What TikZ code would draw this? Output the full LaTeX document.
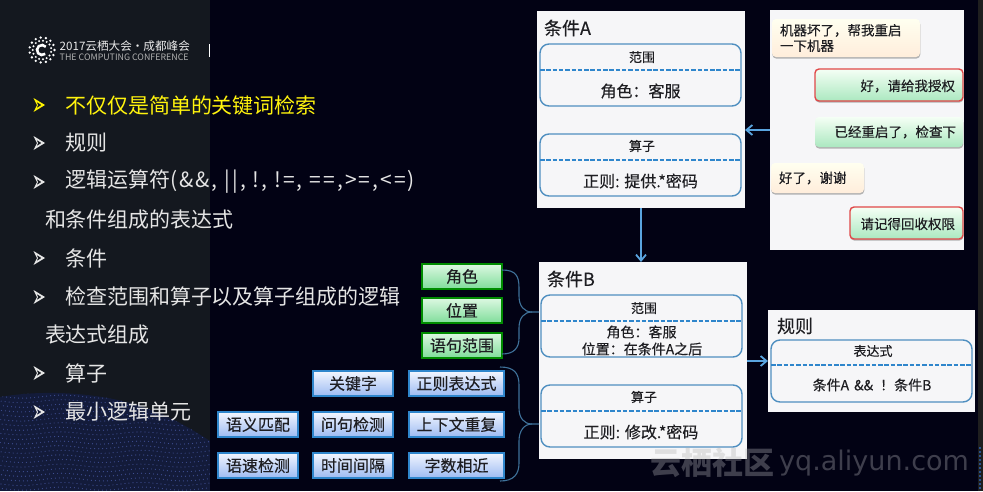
\documentclass[tikz,border=0pt]{standalone}
\usepackage{fontspec}
\setmainfont{Noto Sans CJK SC}
\newfontfamily\latinwm{DejaVu Sans}
\newfontfamily\heavycjk[FakeBold=0.35]{Noto Sans CJK SC}
\usetikzlibrary{arrows.meta,shadows,calc}
\definecolor{navy}{HTML}{020214}
\definecolor{slate}{HTML}{14181F}
\definecolor{panel}{HTML}{F6F6F8}
\definecolor{rim}{HTML}{4F8FC0}
\definecolor{dash}{HTML}{2F86CC}
\definecolor{flow}{HTML}{5AA5E0}
\definecolor{ink}{HTML}{1E1E22}
\definecolor{wavefill}{HTML}{131B3A}
\definecolor{wavedot}{HTML}{3F4E92}
\definecolor{chipgreenlow}{HTML}{7FDD9A}
\definecolor{chipgreentop}{HTML}{DDF8E2}
\definecolor{chipbluelow}{HTML}{9DBBF2}
\definecolor{chipbluetop}{HTML}{F2F6FF}
\definecolor{replylow}{HTML}{ABE8C0}
\definecolor{alertrim}{HTML}{E04848}
\newcommand{\fs}[1]{\fontsize{#1}{#1}\selectfont}
\tikzset{
  x=1pt,y=-1pt,
  txt/.style={inner sep=0pt,outer sep=0pt,text=ink,font=\heavycjk\fs{16}},
  card/.style={anchor=north west,draw=none,fill=panel,inner sep=0pt,outer sep=0pt},
  slot/.style={anchor=north west,draw=rim,line width=1.4pt,rounded corners=9pt,inner sep=0pt,outer sep=0pt},
  divider/.style={draw=dash,line width=1.8pt,dash pattern=on 4.5pt off 1.8pt},
  flowline/.style={draw=flow,line width=1.8pt,-{Straight Barb[length=6pt,width=10pt,line width=1.8pt]}},
  brace/.style={draw=rim!80!black,line width=1.1pt},
  chatcard/.style={anchor=north west,rounded corners=4pt,inner sep=0pt,outer sep=0pt,
    copy shadow={shadow xshift=0.3pt,shadow yshift=-1.6pt,fill=black!30,draw=none}},
  ask/.style={chatcard,top color=yellow!6!white,bottom color=orange!14!white},
  reply/.style={chatcard,top color=green!4!white,bottom color=replylow},
  alert/.style={reply,draw=alertrim,line width=1.4pt},
  chiptext/.style={font=\heavycjk\fs{16},text=ink},
  greenchip/.style={chiptext,anchor=north west,draw=green!55!black,line width=1.3pt,top color=chipgreentop,bottom color=chipgreenlow,
    inner sep=0pt,outer sep=0pt,minimum height=25pt,minimum width=80pt},
  bluechip/.style={chiptext,anchor=north west,draw=dash,line width=1.3pt,top color=chipbluetop,bottom color=chipbluelow,
    inner sep=0pt,outer sep=0pt,minimum height=25pt},
  item/.style={anchor=west,inner sep=0pt,outer sep=0pt,text=white!90!black,font=\fs{21}}
}
% hollow arrow-shaped list bullet
\newcommand{\listmark}[2]{%
  \fill[#2,even odd rule] (33.5,#1-7) -- (45,#1) -- (33.5,#1+7) -- (37,#1) -- cycle
     (36.5,#1-3.2) -- (41.5,#1) -- (36.5,#1+3.2) -- (38,#1) -- cycle;}
\begin{document}
\begin{tikzpicture}
\useasboundingbox (0,0) rectangle (983,491);
% backgrounds
\fill[navy] (0,0) rectangle (983,491);
\fill[slate] (0,0) rectangle (210,491);
\fill[black!88!white] (978,0) rectangle (983,491);
% dotted wave in the lower corner of the dark column
\begin{scope}
  \clip (0,397) .. controls (40,390) and (90,392) .. (130,403) .. controls (165,413) and (190,428) .. (210,441) -- (210,491) -- (0,491) -- cycle;
  \fill[wavefill] (0,380) rectangle (210,491);
  \foreach \r in {0,...,21}{
    \foreach \c in {0,...,52}{
      \fill[wavedot] ({\c*4+2*mod(\r,2)+1.5*sin(\r*25)},{392+\r*4.6+1.5*sin(\c*18)}) circle (0.6);
    }
  }
\end{scope}
\foreach \yy in {448,452,...,490}{\fill[blue!60!cyan!80!white] (980,\yy) circle (0.9);}
% conference logo
\foreach \a in {0,24,...,336}{
  \fill[white] ($(42,50)+(\a:12.5)$) circle (1.3);
  \fill[white] ($(42,50)+(\a+12:9.3)$) circle (1.1);
}
\draw[white,line width=2.6pt] ($(42,50)+(50:5)$) arc (50:320:5);
\node[inner sep=0pt,anchor=west,text=white!92!black,font=\fs{11.6}] (logoa) at (59.5,46) {2017云栖大会·成都峰会};
\node[inner sep=0pt,anchor=west,text=white!70!black,font=\fs{8.85}] (logob) at (59.5,57.5) {THE COMPUTING CONFERENCE};
\fill[white] (209,44) rectangle (210,57);
% bullet list
\listmark{105}{yellow}
\listmark{143}{white!90!black}
\listmark{182}{white!90!black}
\listmark{258}{white!90!black}
\listmark{297}{white!90!black}
\listmark{373}{white!90!black}
\listmark{412}{white!90!black}
\node[item,text=yellow!95!white] (l1) at (65,105) {不仅仅是简单的关键词检索};
\node[item] (l2) at (65,143) {规则};
\node[item] (l3) at (65,182) {逻辑运算符{\addfontfeature{LetterSpace=10}(\&\&, ||, !, !=, ==,>=,<=)}};
\node[item] (l4) at (45,220) {和条件组成的表达式};
\node[item] (l5) at (65,258) {条件};
\node[item] (l6) at (65,297) {检查范围和算子以及算子组成的逻辑};
\node[item] (l7) at (45,335) {表达式组成};
\node[item] (l8) at (65,373) {算子};
\node[item] (l9) at (65,412) {最小逻辑单元};
% condition A
\node[card,minimum width=208pt,minimum height=197pt] (ca) at (537,11) {};
\node[txt,anchor=west,font=\heavycjk\fs{18}] (catitle) at (544,28) {条件A};
\node[slot,minimum width=201pt,minimum height=62pt] (ca1) at (540,44) {};
\draw[divider] (ca1.west |- 0,70) -- (ca1.east |- 0,70);
\node[txt,font=\heavycjk\fs{13}] at (642,57) {范围};
\node[txt] at (640.5,91) {角色：客服};
\node[slot,minimum width=201pt,minimum height=62pt] (ca2) at (540,134) {};
\draw[divider] (ca2.west |- 0,160) -- (ca2.east |- 0,160);
\node[txt,font=\heavycjk\fs{13}] at (642,146) {算子};
\node[txt] at (640.5,181) {正则: 提供.*密码};
% chat log
\node[card,minimum width=194pt,minimum height=240pt] (chat) at (770,10) {};
\node[ask,minimum width=148pt,minimum height=38pt] (m1) at (772,19) {};
\node[txt,anchor=west,font=\heavycjk\fs{13.5},align=left] at (780,38) {机器坏了，帮我重启\\[2pt]一下机器};
\node[alert,minimum width=148pt,minimum height=32pt] (m2) at (815,69) {};
\node[txt,anchor=east,font=\heavycjk\fs{13.5}] at (955,86) {好，请给我授权};
\node[reply,minimum width=148pt,minimum height=30pt] (m3) at (815,117) {};
\node[txt,anchor=east,font=\heavycjk\fs{13.5}] at (956,132) {已经重启了，检查下};
\node[ask,minimum width=93pt,minimum height=30pt] (m4) at (771,163) {};
\node[txt,anchor=west,font=\heavycjk\fs{13.5}] at (779,178) {好了，谢谢};
\node[alert,minimum width=113pt,minimum height=32pt] (m5) at (850,207) {};
\node[txt,anchor=east,font=\heavycjk\fs{13.5}] at (955,224) {请记得回收权限};
% condition B
\node[card,minimum width=208pt,minimum height=197pt] (cb) at (539,262) {};
\node[txt,anchor=west,font=\heavycjk\fs{18}] (cbtitle) at (547,279) {条件B};
\node[slot,minimum width=201pt,minimum height=62pt] (cb1) at (541,295) {};
\draw[divider] (cb1.west |- 0,321) -- (cb1.east |- 0,321);
\node[txt,font=\heavycjk\fs{13}] at (644,308) {范围};
\node[txt,font=\heavycjk\fs{14}] at (641.5,332) {角色：客服};
\node[txt,font=\heavycjk\fs{14}] at (642,349) {位置：在条件A之后};
\node[slot,minimum width=201pt,minimum height=62pt] (cb2) at (541,385) {};
\draw[divider] (cb2.west |- 0,411) -- (cb2.east |- 0,411);
\node[txt,font=\heavycjk\fs{13}] at (644,397) {算子};
\node[txt] at (641,432) {正则: 修改.*密码};
% rule
\node[card,minimum width=207pt,minimum height=102pt] (ru) at (768,310) {};
\node[txt,anchor=west,font=\heavycjk\fs{18}] (rutitle) at (777,326) {规则};
\node[slot,minimum width=201pt,minimum height=62pt] (ru1) at (771,340) {};
\draw[divider] (ru1.west |- 0,365) -- (ru1.east |- 0,365);
\node[txt,font=\heavycjk\fs{13}] at (873,351) {表达式};
\node[txt,font=\heavycjk\fs{14}] at (872,385) {条件A\hspace{5pt}\&\&\hspace{7pt}！条件B};
% flow arrows
\draw[flowline] (chat.west |- 0,130) -- (ca.east |- 0,130);
\draw[flowline] (ca.south -| 641,0) -- (cb.north -| 641,0);
\draw[flowline] (cb.east |- 0,361) -- (ru.west |- 0,361);
% scope attributes
\node[greenchip] (g1) at (422,264) {角色};
\node[greenchip] (g2) at (422,298) {位置};
\node[greenchip] (g3) at (422,333) {语句范围};
% operator types
\node[bluechip,minimum width=80pt] (b1) at (313,371) {关键字};
\node[bluechip,minimum width=95pt] (b2) at (409,371) {正则表达式};
\node[bluechip,minimum width=80pt] (b3) at (218,412) {语义匹配};
\node[bluechip,minimum width=80pt] (b4) at (313,412) {问句检测};
\node[bluechip,minimum width=95pt] (b5) at (409,412) {上下文重复};
\node[bluechip,minimum width=80pt] (b6) at (218,453) {语速检测};
\node[bluechip,minimum width=80pt] (b7) at (313,453) {时间间隔};
\node[bluechip,minimum width=95pt] (b8) at (409,453) {字数相近};
% brackets joining the chips to the condition
\draw[brace] (g1.east |- 0,270) .. controls (516,270) and (519,276) .. (519,288) -- (519,296)
   .. controls (519,306) and (524,312) .. (532,312) -- (cb.west |- 0,312);
\draw[brace] (g3.east |- 0,354) .. controls (514,354) and (519,348) .. (519,338) -- (519,328)
   .. controls (519,318) and (524,312) .. (532,312);
\draw[brace] (500,367) .. controls (514,367) and (519,373) .. (519,385) -- (519,408)
   .. controls (519,418) and (524,424) .. (532,424) -- (cb.west |- 0,424);
\draw[brace] (500,481) .. controls (514,481) and (519,474) .. (519,463) -- (519,441)
   .. controls (519,431) and (524,424) .. (532,424);
% site watermark
\begin{scope}
  \node[inner sep=0pt,anchor=west,text=white,opacity=0.24,font=\fs{31}\bfseries] (wma) at (650,463) {云栖社区};
  \node[inner sep=0pt,anchor=west,text=white,opacity=0.24,font=\latinwm\fs{27}] (wmb) at (779,463) {yq.aliyun.com};
\end{scope}
\begin{scope}
  \clip (cb.north west) rectangle (cb.south east);
  \node[inner sep=0pt,anchor=west,text=black,opacity=0.1,font=\fs{31}\bfseries] (wmc) at (650,463) {云栖社区};
\end{scope}
\end{tikzpicture}
\end{document}
